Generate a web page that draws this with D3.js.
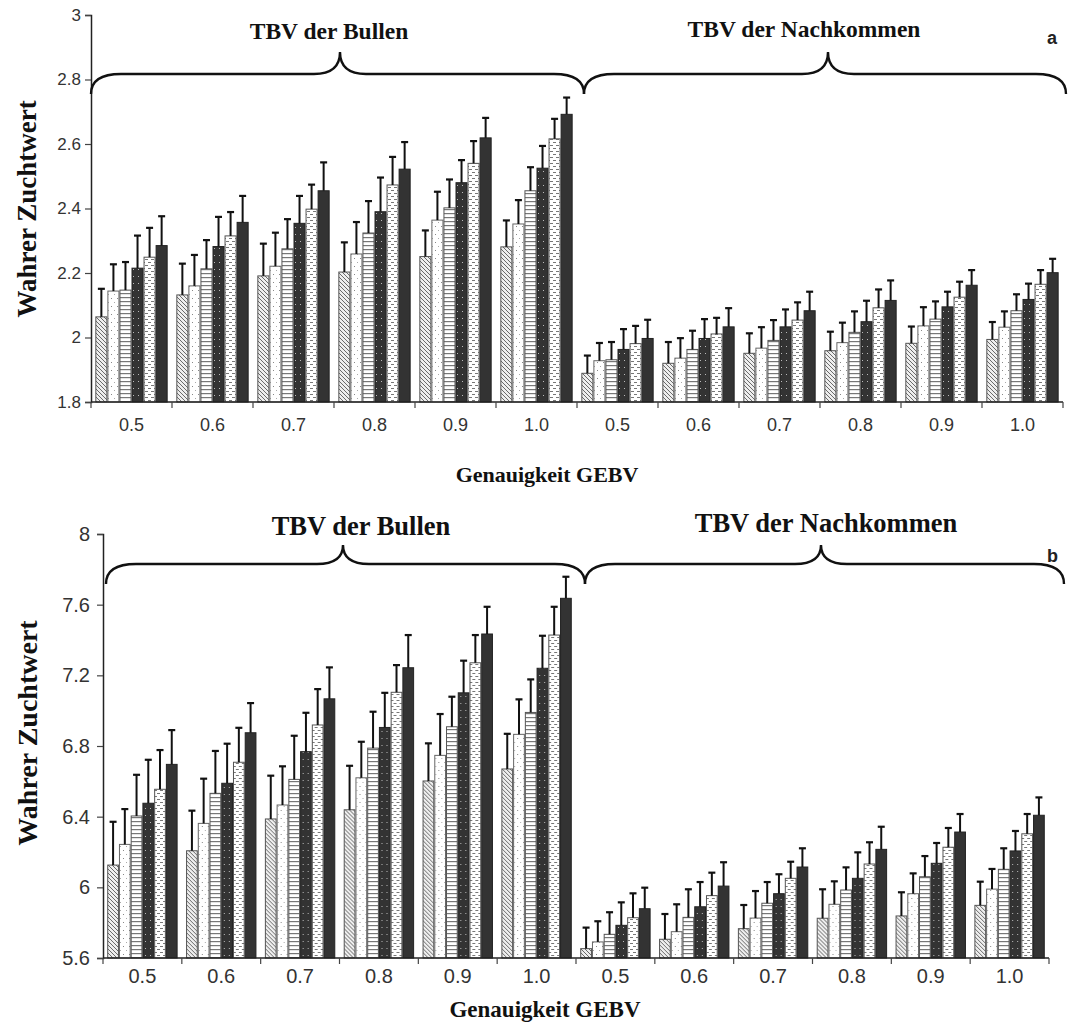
<!DOCTYPE html>
<html>
<head>
<meta charset="utf-8">
<script src="https://cdn.jsdelivr.net/npm/d3@7"></script>
<style>
  html, body { margin: 0; padding: 0; background: #fff; }
  svg { display: block; }
</style>
</head>
<body>
<svg id="chart" width="1068" height="1022"></svg>
<script>
// ---------------- DATA ----------------
const categories = ["0.5", "0.6", "0.7", "0.8", "0.9", "1.0", "0.5", "0.6", "0.7", "0.8", "0.9", "1.0"];
const seriesNames = ["s1", "s2", "s3", "s4", "s5", "s6"];
const groupTitles = ["TBV der Bullen", "TBV der Nachkommen"];

// Panel a: means per group (6 series each)
const aMeans = [
  [2.064, 2.144, 2.147, 2.215, 2.249, 2.285],
  [2.132, 2.160, 2.213, 2.282, 2.315, 2.357],
  [2.191, 2.221, 2.275, 2.354, 2.398, 2.455],
  [2.203, 2.259, 2.324, 2.390, 2.473, 2.522],
  [2.251, 2.364, 2.402, 2.480, 2.540, 2.619],
  [2.281, 2.352, 2.455, 2.525, 2.616, 2.692],
  [1.889, 1.928, 1.931, 1.963, 1.981, 1.997],
  [1.920, 1.936, 1.963, 1.997, 2.011, 2.033],
  [1.951, 1.967, 1.991, 2.033, 2.054, 2.083],
  [1.959, 1.984, 2.016, 2.049, 2.092, 2.115],
  [1.982, 2.036, 2.057, 2.095, 2.125, 2.162],
  [1.994, 2.032, 2.083, 2.118, 2.165, 2.201]
];
const aErr = [
  [0.087, 0.083, 0.087, 0.101, 0.091, 0.091],
  [0.097, 0.096, 0.089, 0.092, 0.074, 0.082],
  [0.100, 0.104, 0.092, 0.085, 0.076, 0.088],
  [0.092, 0.099, 0.099, 0.106, 0.087, 0.084],
  [0.081, 0.088, 0.088, 0.070, 0.069, 0.062],
  [0.082, 0.074, 0.073, 0.069, 0.062, 0.052],
  [0.055, 0.055, 0.055, 0.063, 0.055, 0.058],
  [0.066, 0.062, 0.058, 0.060, 0.050, 0.058],
  [0.062, 0.065, 0.063, 0.054, 0.055, 0.059],
  [0.059, 0.062, 0.065, 0.065, 0.057, 0.062],
  [0.052, 0.058, 0.055, 0.047, 0.048, 0.047],
  [0.054, 0.049, 0.051, 0.049, 0.044, 0.043]
];
const aTicks = [1.8, 2.0, 2.2, 2.4, 2.6, 2.8, 3.0];
const aTickLabels = ["1.8", "2", "2.2", "2.4", "2.6", "2.8", "3"];

// Panel b
const bMeans = [
  [6.126, 6.243, 6.404, 6.476, 6.555, 6.696],
  [6.207, 6.362, 6.532, 6.589, 6.708, 6.875],
  [6.387, 6.466, 6.611, 6.768, 6.919, 7.067],
  [6.439, 6.620, 6.788, 6.905, 7.104, 7.243],
  [6.602, 6.747, 6.909, 7.101, 7.271, 7.434],
  [6.670, 6.866, 6.990, 7.240, 7.428, 7.636],
  [5.653, 5.691, 5.734, 5.785, 5.828, 5.879],
  [5.706, 5.749, 5.830, 5.890, 5.953, 6.007],
  [5.766, 5.826, 5.910, 5.964, 6.051, 6.115],
  [5.825, 5.904, 5.985, 6.051, 6.132, 6.215],
  [5.838, 5.964, 6.060, 6.136, 6.227, 6.313],
  [5.898, 5.990, 6.102, 6.206, 6.303, 6.408]
];
const bErr = [
  [0.245, 0.200, 0.233, 0.246, 0.222, 0.194],
  [0.227, 0.253, 0.240, 0.224, 0.195, 0.168],
  [0.245, 0.219, 0.247, 0.220, 0.203, 0.178],
  [0.249, 0.204, 0.206, 0.196, 0.154, 0.185],
  [0.213, 0.234, 0.170, 0.182, 0.157, 0.154],
  [0.199, 0.198, 0.187, 0.184, 0.160, 0.122],
  [0.119, 0.117, 0.125, 0.130, 0.138, 0.119],
  [0.143, 0.155, 0.159, 0.140, 0.130, 0.135],
  [0.134, 0.153, 0.120, 0.110, 0.094, 0.106],
  [0.164, 0.130, 0.128, 0.147, 0.123, 0.128],
  [0.134, 0.115, 0.117, 0.115, 0.109, 0.102],
  [0.134, 0.114, 0.119, 0.113, 0.112, 0.101]
];
const bTicks = [5.6, 6.0, 6.4, 6.8, 7.2, 7.6, 8.0];
const bTickLabels = ["5.6", "6", "6.4", "6.8", "7.2", "7.6", "8"];

const yTitle = "Wahrer Zuchtwert";
const xTitle = "Genauigkeit GEBV";
const panelLetters = ["a", "b"];

// ---------------- DRAW ----------------
const svg = d3.select("#chart");
const defs = svg.append("defs");

function pat(id, w, h, bg, draw) {
  const p = defs.append("pattern").attr("id", id).attr("patternUnits", "userSpaceOnUse")
    .attr("width", w).attr("height", h);
  p.append("rect").attr("width", w).attr("height", h).attr("fill", bg);
  draw(p);
}
pat("p1", 4, 4, "#eeeeee", p => {
  p.append("path").attr("d", "M-1,-1 L5,5 M3,-1 L5,1 M-1,3 L1,5").attr("stroke", "#6a6a6a").attr("stroke-width", 1);
});
pat("p2", 6, 8, "#ffffff", p => {
  p.append("rect").attr("x", 2).attr("y", 2).attr("width", 1).attr("height", 1).attr("fill", "#888");
  p.append("rect").attr("x", 5).attr("y", 6).attr("width", 1).attr("height", 1).attr("fill", "#aaa");
});
pat("p3", 4, 4, "#ffffff", p => {
  p.append("rect").attr("x", 0).attr("y", 1).attr("width", 4).attr("height", 1.2).attr("fill", "#777");
});
pat("p4", 5, 7, "#333333", p => {
  p.append("rect").attr("x", 2).attr("y", 3).attr("width", 1).attr("height", 1).attr("fill", "#bbb");
});
pat("p5", 6, 6, "#ffffff", p => {
  p.append("rect").attr("x", 0).attr("y", 1).attr("width", 3).attr("height", 1).attr("fill", "#777");
  p.append("rect").attr("x", 3).attr("y", 4).attr("width", 3).attr("height", 1).attr("fill", "#777");
});
const fills = ["url(#p1)", "url(#p2)", "url(#p3)", "url(#p4)", "url(#p5)", "#333333"];
const strokes = ["#555", "#666", "#555", "#222", "#555", "#222"];

const serifFont = "'Liberation Serif', 'Times New Roman', serif";
const sansFont = "'Liberation Sans', Arial, sans-serif";

function drawPanel(cfg) {
  const g = svg.append("g");
  const y = d3.scaleLinear().domain([cfg.ticks[0], cfg.ticks[cfg.ticks.length - 1]]).range([cfg.bottom, cfg.top]);
  const x0 = d3.scaleBand().domain(d3.range(categories.length)).range([cfg.left, cfg.right]).padding(0);
  const x1 = d3.scaleBand().domain(seriesNames).range([0, x0.bandwidth()]).paddingInner(0).paddingOuter(0.36);

  const groups = g.selectAll("g.grp").data(cfg.means).join("g").attr("class", "grp")
    .attr("transform", (d, i) => `translate(${x0(i)},0)`);
  groups.each(function (row, gi) {
    const gg = d3.select(this);
    row.forEach((v, si) => {
      const bx = x1(seriesNames[si]);
      gg.append("rect")
        .attr("x", bx + 0.5).attr("y", y(v))
        .attr("width", x1.bandwidth() - 1).attr("height", y(cfg.ticks[0]) - y(v))
        .attr("fill", fills[si]).attr("stroke", strokes[si]).attr("stroke-width", 1);
    });
    row.forEach((v, si) => {
      const cx = x1(seriesNames[si]) + x1.bandwidth() / 2;
      const top = y(v + cfg.err[gi][si]);
      gg.append("line").attr("x1", cx).attr("x2", cx).attr("y1", y(v)).attr("y2", top)
        .attr("stroke", "#111").attr("stroke-width", 2);
      gg.append("line").attr("x1", cx - 3.5).attr("x2", cx + 3.5).attr("y1", top).attr("y2", top)
        .attr("stroke", "#111").attr("stroke-width", 2.2);
    });
  });

  // y axis
  const yAxis = d3.axisLeft(y).tickValues(cfg.ticks).tickFormat((d, i) => cfg.tickLabels[i]).tickSizeOuter(0).tickSize(6);
  const ya = g.append("g").attr("transform", `translate(${cfg.left},0)`).call(yAxis);
  ya.select(".domain").attr("stroke", "#222").attr("stroke-width", 1.5);
  ya.selectAll(".tick line").attr("stroke", "#444").attr("stroke-width", 1.2);
  ya.selectAll(".tick text").attr("font-family", sansFont).attr("font-size", cfg.tickSize)
    .attr("fill", "#333").attr("x", cfg.tickLabelDx);

  // x axis
  const xa = g.append("g").attr("transform", `translate(0,${cfg.bottom})`);
  xa.append("line").attr("x1", cfg.left).attr("x2", cfg.right).attr("y1", 0).attr("y2", 0)
    .attr("stroke", "#222").attr("stroke-width", 1.5);
  const bounds = d3.range(categories.length + 1).map(i => i < categories.length ? x0(i) : cfg.right);
  xa.selectAll("line.xt").data(bounds).join("line").attr("class", "xt")
    .attr("x1", d => d).attr("x2", d => d).attr("y1", 0).attr("y2", 6)
    .attr("stroke", "#444").attr("stroke-width", 1.2);
  xa.selectAll("text.xl").data(categories).join("text").attr("class", "xl")
    .attr("x", (d, i) => x0(i) + x0.bandwidth() / 2).attr("y", cfg.xLabelDy)
    .attr("text-anchor", "middle").attr("font-family", sansFont).attr("font-size", cfg.xTickSize).attr("fill", "#333")
    .text(d => d);

  // axis titles
  g.append("text").attr("transform", `translate(${cfg.yTitleX},${cfg.yTitleY}) rotate(-90)`)
    .attr("text-anchor", "middle").attr("font-family", serifFont).attr("font-weight", "bold")
    .attr("font-size", cfg.yTitleSize).attr("fill", "#111").text(yTitle);
  g.append("text").attr("x", cfg.xTitleX).attr("y", cfg.xTitleY)
    .attr("text-anchor", "middle").attr("font-family", serifFont).attr("font-weight", "bold")
    .attr("font-size", cfg.xTitleSize).attr("fill", "#111").text(xTitle);

  // braces
  function brace(xs, xe, xm, yb, ym, yp) {
    const r = 30, rp = 26;
    return `M${xs},${yb} Q${xs},${ym} ${xs + r},${ym} L${xm - rp},${ym} Q${xm},${ym} ${xm},${yp} ` +
      `Q${xm},${ym} ${xm + rp},${ym} L${xe - r},${ym} Q${xe},${ym} ${xe},${yb}`;
  }
  cfg.braces.forEach((b, i) => {
    g.append("path").attr("d", brace(b.x0, b.x1, b.xm, cfg.braceYb, cfg.braceYm, cfg.braceYp))
      .attr("fill", "none").attr("stroke", "#111").attr("stroke-width", 2.4);
    g.append("text").attr("x", b.tx).attr("y", b.ty).attr("text-anchor", "middle")
      .attr("font-family", serifFont).attr("font-weight", "bold").attr("font-size", cfg.braceSize)
      .attr("fill", "#111").text(groupTitles[i]);
  });
  g.append("text").attr("x", cfg.letterX).attr("y", cfg.letterY).attr("font-family", sansFont)
    .attr("font-weight", "bold").attr("font-size", 18).attr("fill", "#222").text(cfg.letter);
}

drawPanel({
  means: aMeans, err: aErr, ticks: aTicks, tickLabels: aTickLabels,
  left: 91, right: 1063, top: 15, bottom: 402,
  tickSize: 17, xTickSize: 18, tickLabelDx: -10, xLabelDy: 29,
  yTitleX: 36, yTitleY: 209, yTitleSize: 27,
  xTitleX: 547, xTitleY: 482, xTitleSize: 22,
  braceYb: 94, braceYm: 74, braceYp: 52, braceSize: 23.5,
  braces: [{ x0: 91, x1: 584, xm: 340, tx: 329, ty: 39 }, { x0: 584, x1: 1066, xm: 828, tx: 804, ty: 37 }],
  letter: panelLetters[0], letterX: 1047, letterY: 44
});
drawPanel({
  means: bMeans, err: bErr, ticks: bTicks, tickLabels: bTickLabels,
  left: 103, right: 1049, top: 534, bottom: 958,
  tickSize: 20, xTickSize: 20, tickLabelDx: -13, xLabelDy: 25,
  yTitleX: 37, yTitleY: 733, yTitleSize: 28,
  xTitleX: 545, xTitleY: 1017, xTitleSize: 23,
  braceYb: 584, braceYm: 564, braceYp: 545, braceSize: 26.5,
  braces: [{ x0: 106, x1: 585, xm: 343, tx: 361, ty: 535 }, { x0: 585, x1: 1064, xm: 821, tx: 826, ty: 532 }],
  letter: panelLetters[1], letterX: 1047, letterY: 562
});
</script>
</body>
</html>
